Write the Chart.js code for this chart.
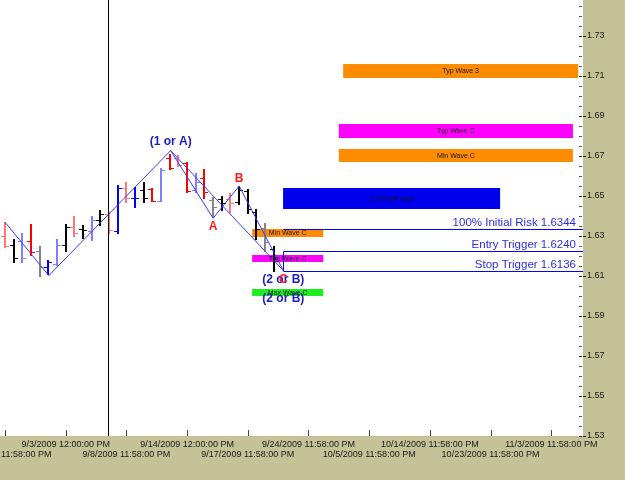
<!DOCTYPE html>
<html><head><meta charset="utf-8">
<script src="https://cdn.jsdelivr.net/npm/chart.js@4.4.0/dist/chart.umd.min.js"></script>
<style>html,body{margin:0;padding:0;background:#C5C298;}#wrap{width:625px;height:480px;position:relative;}</style>
</head><body><div id="wrap"><canvas id="c"></canvas></div>
<script>
// ---- data ----
const barIdx = [0,1,2,3,4,5,6,7,8,9,10,11,12,13,14,15,16,17,18,19,20,21,22,23,24,25,26,27,28,29,30,31];
const opens  = [1.630,1.6255,1.6275,1.6275,1.6225,1.6145,1.616,1.6255,1.6345,1.6335,1.6325,1.638,1.641,1.6325,1.654,1.649,1.653,1.6535,1.6475,1.669,1.669,1.6665,1.653,1.659,1.648,1.6485,1.6485,1.647,1.6525,1.642,1.634,1.6235];
const highs  = [1.637,1.6285,1.6315,1.636,1.625,1.618,1.6285,1.636,1.640,1.6355,1.640,1.643,1.642,1.6555,1.657,1.6545,1.657,1.654,1.664,1.671,1.6705,1.667,1.6615,1.6635,1.6495,1.650,1.6515,1.655,1.6535,1.6435,1.6365,1.625];
const lows   = [1.624,1.6165,1.6165,1.620,1.6095,1.6105,1.615,1.622,1.6295,1.6285,1.6275,1.635,1.631,1.631,1.6465,1.644,1.6465,1.647,1.647,1.663,1.6645,1.6515,1.6515,1.6485,1.639,1.6425,1.6415,1.6455,1.641,1.628,1.622,1.612];
const closes = [1.625,1.619,1.619,1.622,1.6145,1.617,1.6255,1.6345,1.6315,1.633,1.638,1.641,1.633,1.654,1.649,1.649,1.649,1.6475,1.663,1.664,1.6655,1.6525,1.657,1.652,1.6445,1.6465,1.6465,1.653,1.6435,1.6335,1.627,1.6185];
const barTone = ['pink','black','lightblue','red','gray','blue','lightblue','black','pink','black','lightblue','black','pink','blue','pink','blue','black','red','lightblue','red','pink','red','lightblue','red','gray','black','pink','black','black','black','gray','black'];

const xTickIdx = [0,7,14,21,28,35,42,49,56,63];
const xTickLabels = ["8/28/2009 11:58:00 PM","9/3/2009 12:00:00 PM","9/8/2009 11:58:00 PM","9/14/2009 12:00:00 PM","9/17/2009 11:58:00 PM","9/24/2009 11:58:00 PM","10/5/2009 11:58:00 PM","10/14/2009 11:58:00 PM","10/23/2009 11:58:00 PM","11/3/2009 11:58:00 PM"];
const yMajorTicks = [1.53,1.55,1.57,1.59,1.61,1.63,1.65,1.67,1.69,1.71,1.73];
const yMinorStep = 0.005;

const waveX = [0, 5.05, 19.1, 24, 27, 32.1];
const waveY = [1.6369, 1.6102, 1.6727, 1.6389, 1.655, 1.6127];
const diagX = [19.1, 32.1];
const diagY = [1.6727, 1.6127];

const zoneLabels = ["Typ Wave 3","Typ Wave C","Min Wave C","2-3 Profit area","Min Wave C","Typ Wave C","Max Wave C"];
const zoneX0 = [39.0, 38.5, 38.5, 32.07, 28.5, 28.5, 28.5];
const zoneX1 = [66.1, 65.5, 65.5, 57.1, 36.7, 36.7, 36.7];
const zoneLo = [1.709, 1.679, 1.667, 1.6435, 1.6295, 1.617, 1.600];
const zoneHi = [1.716, 1.686, 1.6735, 1.654, 1.6335, 1.6205, 1.6035];
const zoneTone = ['orange','magenta','orange','blue','orange','magenta','green'];

const levelNames = ["100% Initial Risk 1.6344","Entry Trigger 1.6240","Stop Trigger 1.6136"];
const levelVals = [1.63325, 1.6225, 1.6125];
const levelStartX = 32.07;

const waveText = ["(1 or A)","A","B","(2 or B)","(2 or B)","C"];
const waveTextX = [19.1, 24, 27, 32.1, 32.1, 32.1];
const waveTextY = [1.677, 1.6347, 1.6589, 1.6083, 1.5985, 1.6083];
const waveTextKind = ['wave','letter','letter','wave','wave','letter'];

const markerX = 11.83;

// ---- styles ----
const FONT = '"Liberation Sans", Arial, sans-serif';
const toneColor = {red:'#FF0000', pink:'#FF7878', black:'#000000', gray:'#858585', blue:'#0000FF', lightblue:'#7E7EFF'};
const zoneColor = {orange:'#FF8C00', magenta:'#FF00FF', blue:'#0000EE', green:'#1EEE1E'};
const lineBlue = '#3A3AFF';
const levelBlue = '#0000FF';

const drawPlugin = {
  id: 'drawPlugin',
  beforeDraw(chart) {
    const {ctx, chartArea: a} = chart;
    ctx.save();
    ctx.fillStyle = '#FFFFFF';
    ctx.fillRect(a.left, a.top, a.right - a.left, a.bottom - a.top);
    ctx.restore();
  },
  beforeDatasetsDraw(chart) {
    const {ctx, chartArea: a} = chart;
    const xs = chart.scales.x, ys = chart.scales.y;
    ctx.save();
    ctx.beginPath(); ctx.rect(a.left, a.top, a.right - a.left, a.bottom - a.top); ctx.clip();
    zoneLabels.forEach((lbl, i) => {
      const x0 = xs.getPixelForValue(zoneX0[i]), x1 = xs.getPixelForValue(zoneX1[i]);
      const y0 = ys.getPixelForValue(zoneHi[i]), y1 = ys.getPixelForValue(zoneLo[i]);
      ctx.fillStyle = zoneColor[zoneTone[i]];
      ctx.fillRect(x0, y0, x1 - x0, y1 - y0);
    });
    barIdx.forEach((b, i) => {
      const x = Math.round(xs.getPixelForValue(b));
      const yh = ys.getPixelForValue(highs[i]), yl = ys.getPixelForValue(lows[i]);
      const yo = Math.round(ys.getPixelForValue(opens[i])), yc = Math.round(ys.getPixelForValue(closes[i]));
      ctx.fillStyle = toneColor[barTone[i]];
      ctx.fillRect(x - 1, yh, 2, yl - yh);
      ctx.fillRect(x - 4, yo, 3, 1);
      ctx.fillRect(x + 1, yc, 3, 1);
    });
    const mx = Math.round(xs.getPixelForValue(markerX)) + 0.5;
    ctx.strokeStyle = '#000'; ctx.lineWidth = 1;
    ctx.beginPath(); ctx.moveTo(mx, a.top); ctx.lineTo(mx, a.bottom); ctx.stroke();
    ctx.restore();
  },
  afterDatasetsDraw(chart) {
    const {ctx, chartArea: a} = chart;
    const xs = chart.scales.x, ys = chart.scales.y;
    ctx.save();
    const lx = Math.round(xs.getPixelForValue(levelStartX)) + 0.5;
    const yR = Math.round(ys.getPixelForValue(levelVals[0])) + 0.5;
    const yE = Math.round(ys.getPixelForValue(levelVals[1])) + 0.5;
    const yS = Math.round(ys.getPixelForValue(levelVals[2])) + 0.5;
    ctx.strokeStyle = levelBlue; ctx.lineWidth = 1;
    ctx.beginPath();
    ctx.moveTo(lx, yR); ctx.lineTo(a.right, yR);
    ctx.moveTo(a.right, yE); ctx.lineTo(lx, yE); ctx.lineTo(lx, yS); ctx.lineTo(a.right, yS);
    ctx.stroke();
    ctx.font = '11.5px ' + FONT; ctx.fillStyle = '#2D2DE6';
    ctx.textAlign = 'right'; ctx.textBaseline = 'middle';
    levelNames.forEach((t, i) => {
      ctx.fillText(t, a.right - 7, ys.getPixelForValue(levelVals[i]) - 6.5);
    });
    ctx.font = '7px ' + FONT; ctx.fillStyle = '#141414'; ctx.textAlign = 'center';
    zoneLabels.forEach((lbl, i) => {
      const cx = (xs.getPixelForValue(zoneX0[i]) + xs.getPixelForValue(zoneX1[i])) / 2;
      const cy = (ys.getPixelForValue(zoneHi[i]) + ys.getPixelForValue(zoneLo[i])) / 2;
      ctx.fillText(lbl, cx, cy + 0.5);
    });
    waveText.forEach((t, i) => {
      if (waveTextKind[i] === 'wave') { ctx.font = 'bold 12px ' + FONT; ctx.fillStyle = '#2020C0'; }
      else { ctx.font = 'bold 12px ' + FONT; ctx.fillStyle = '#FF1A1A'; }
      ctx.fillText(t, xs.getPixelForValue(waveTextX[i]), ys.getPixelForValue(waveTextY[i]));
    });
    for (let v = 1.53; v <= 1.7475; v += yMinorStep) {
      const y = Math.round(ys.getPixelForValue(v)) + 0.5;
      const major = yMajorTicks.some(m => Math.abs(m - v) < 1e-6);
      ctx.strokeStyle = major ? '#202020' : '#555555';
      ctx.beginPath(); ctx.moveTo(a.right - 4, y); ctx.lineTo(a.right - 1, y);
      if (major) { ctx.moveTo(a.right, y); ctx.lineTo(a.right + 3, y); }
      ctx.stroke();
    }
    ctx.strokeStyle = '#444';
    xTickIdx.forEach(v => {
      const x = Math.round(xs.getPixelForValue(v)) + 0.5;
      ctx.beginPath(); ctx.moveTo(x, a.bottom - 6); ctx.lineTo(x, a.bottom); ctx.stroke();
    });
    ctx.restore();
  }
};

const lineStyle = {showLine: true, borderColor: lineBlue, borderWidth: 1, pointRadius: 0, fill: false, tension: 0};

new Chart(document.getElementById('c'), {
  type: 'scatter',
  data: {
    datasets: [
      Object.assign({data: waveX.map((x, i) => ({x, y: waveY[i]}))}, lineStyle),
      Object.assign({data: diagX.map((x, i) => ({x, y: diagY[i]}))}, lineStyle)
    ]
  },
  options: {
    responsive: true, maintainAspectRatio: false, animation: false, events: [],
    layout: {padding: 0},
    plugins: {legend: {display: false}, tooltip: {enabled: false}},
    scales: {
      x: {
        type: 'linear', position: 'bottom', min: -0.58, max: 66.66,
        grid: {display: false, drawTicks: false}, border: {display: false},
        afterBuildTicks(s) { s.ticks = xTickIdx.map(v => ({value: v})); },
        afterFit(s) { s.height = 44; s.paddingLeft = 0; s.paddingRight = 0; },
        ticks: {
          autoSkip: false, maxRotation: 0, minRotation: 0, padding: 4, color: '#1a1a1a',
          font: {family: FONT, size: 9, lineHeight: 1.07},
          callback(v) {
            const k = xTickIdx.indexOf(v);
            if (k < 0) return '';
            return k % 2 === 0 ? ['', xTickLabels[k]] : xTickLabels[k];
          }
        }
      },
      y: {
        type: 'linear', position: 'right', min: 1.53, max: 1.748,
        grid: {display: false, drawTicks: false}, border: {display: false},
        afterBuildTicks(s) { s.ticks = yMajorTicks.map(v => ({value: v})); },
        afterFit(s) { s.width = 42; s.paddingTop = 0; s.paddingBottom = 0; },
        ticks: {
          padding: 4, color: '#1a1a1a', font: {family: FONT, size: 9},
          callback(v) { return v.toFixed(2); }
        }
      }
    }
  },
  plugins: [drawPlugin]
});
</script></body></html>
